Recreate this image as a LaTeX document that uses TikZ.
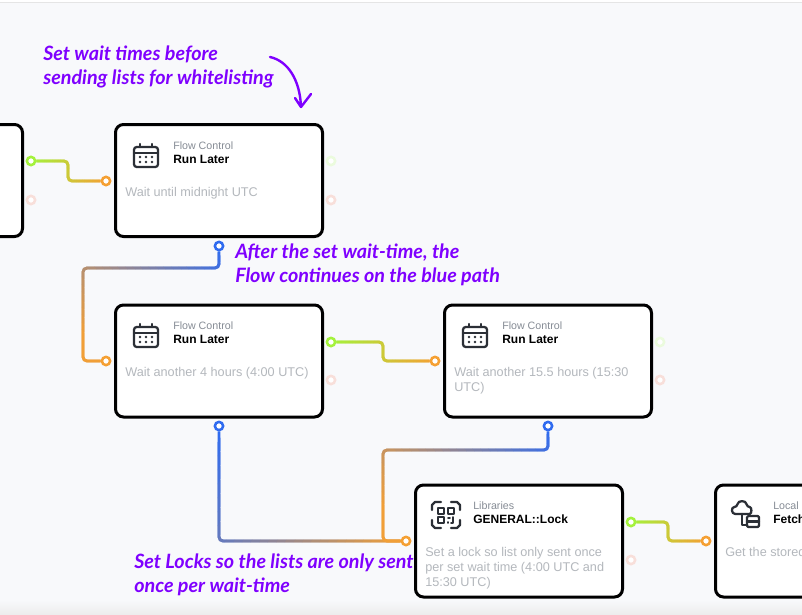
\documentclass[tikz,border=0pt]{standalone}
\usepackage{fontspec}
\setmainfont{Liberation Sans}
\newfontfamily\handfont{Lato}
\usetikzlibrary{calc}

\definecolor{pagebg}{HTML}{F8F9FB}
\definecolor{limeport}{HTML}{A4F23C}
\definecolor{orangeport}{HTML}{F5A033}
\definecolor{blueport}{HTML}{2F6BF0}
\definecolor{limefaint}{HTML}{EBFBDD}
\definecolor{redfaint}{HTML}{F8DFDA}
\definecolor{handpurple}{HTML}{7F00FF}
\definecolor{icondark}{HTML}{2B2F36}
\definecolor{kindgray}{HTML}{868C95}
\definecolor{waitgray}{HTML}{B4B8BD}

\pgfdeclarelayer{links}
\pgfsetlayers{links,main}

\tikzset{
  flowbox/.style={draw=black, fill=white, line width=2.25pt, rounded corners=6pt,
    minimum width=155.25pt, minimum height=84pt, inner sep=0pt},
  port/.style={circle, draw=#1, fill=white, line width=1.9pt, minimum size=6.2pt, inner sep=0pt},
  kindlabel/.style={anchor=base west, inner sep=0pt, text=kindgray, font=\fontsize{8}{9}\selectfont},
  titlelabel/.style={anchor=base west, inner sep=0pt, font=\fontsize{9}{11}\bfseries\selectfont},
  waitlabel/.style={anchor=north west, inner sep=0pt, align=left, text=waitgray,
    font=\fontsize{9.5}{11.25}\selectfont},
  handnote/.style={anchor=north west, inner sep=0pt, align=left, text=handpurple,
    font=\handfont\itshape\bfseries\fontsize{14.8}{18}\selectfont},
  iconline/.style={draw=icondark, line width=1.7pt, line cap=round, line join=round},
}

% gradient link: the same path redrawn through overlapping clipped bands
\newcommand{\flowlink}[5]{
  \coordinate (band-a) at ($(#1)!300pt!90:(#2)$);
  \coordinate (band-b) at ($(#2)!300pt!-90:(#1)$);
  \coordinate (band-c) at ($(#2)!300pt!90:(#1)$);
  \coordinate (band-d) at ($(#1)!300pt!-90:(#2)$);
  \foreach \i in {0,...,29} {
    \pgfmathsetmacro\ta{\i==0 ? -1 : \i/30}
    \pgfmathsetmacro\tb{\i>=28 ? 2 : (\i+2)/30}
    \pgfmathtruncatemacro\pct{(\i+0.5)*100/30}
    \begin{scope}
      \clip ($(band-a)!\ta!(band-b)$) -- ($(band-a)!\tb!(band-b)$)
         -- ($(band-d)!\tb!(band-c)$) -- ($(band-d)!\ta!(band-c)$) -- cycle;
      \draw[#5!\pct!#4, line width=2.1pt, rounded corners=3pt] #3;
    \end{scope}
  }
}

\newcommand{\calendaricon}[2]{
  \begin{scope}[shift={(#1,#2)}]
    \draw[iconline, rounded corners=2pt] (0,4) rectangle (24,24);
    \draw[iconline] (0,10) -- (24,10);
    \draw[iconline] (6,1) -- (6,4) (18,1) -- (18,4);
    \foreach \dotx in {6,12,18} \foreach \doty in {14,19}
      \fill[icondark] (\dotx,\doty) circle (1pt);
  \end{scope}
}

\begin{document}
\begin{tikzpicture}[x=0.75pt, y=-0.75pt]
  \useasboundingbox (0,0) rectangle (802,614);
  \clip (0,0) rectangle (802,614);

  \begin{pgfonlayer}{links}
    \fill[pagebg] (0,0) rectangle (802,614);
    \fill[white] (0,0) rectangle (802,2);
    \fill[black!10] (0,2) rectangle (802,3);
    \shade[top color=pagebg, bottom color=black!7] (0,600) rectangle (802,614);
  \end{pgfonlayer}

  % notes
  \node[handnote] (note-wait) at (43,46) {Set wait times before\\sending lists for whitelisting};
  \node[handnote] (note-after) at (235,244) {After the set wait-time, the\\Flow continues on the blue path};
  \node[handnote] (note-locks) at (134,554) {Set Locks so the lists are only sent\\once per wait-time};

  % boxes
  \node[flowbox] (box-start) at (-81,180.5) {};
  \node[flowbox] (box-midnight) at (219,180.5) {};
  \node[flowbox] (box-four) at (219,361) {};
  \node[flowbox] (box-fifteen) at (548,361) {};
  \node[flowbox] (box-lock) at (519,541) {};
  \node[flowbox] (box-fetch) at (819,541) {};

  \calendaricon{134}{143}
  \node[kindlabel] (kind-midnight) at (173,149) {Flow Control};
  \node[titlelabel] (title-midnight) at (173,163) {Run Later};
  \node[waitlabel] (wait-midnight) at (125,187.5) {Wait until midnight UTC};

  \calendaricon{134}{323}
  \node[kindlabel] (kind-four) at (173,329) {Flow Control};
  \node[titlelabel] (title-four) at (173,343) {Run Later};
  \node[waitlabel] (wait-four) at (125,367.5) {Wait another 4 hours (4:00 UTC)};

  \calendaricon{463}{323}
  \node[kindlabel] (kind-fifteen) at (502,329) {Flow Control};
  \node[titlelabel] (title-fifteen) at (502,343) {Run Later};
  \node[waitlabel] (wait-fifteen) at (454,367.5) {Wait another 15.5 hours (15:30\\UTC)};

  % qr icon
  \begin{scope}[shift={(432,502)}]
    \draw[iconline] (0,8) -- (0,3) -- (3,0) -- (9,0) (19,0) -- (25,0) -- (28,3) -- (28,8)
      (28,18) -- (28,23) -- (25,26) -- (19,26) (9,26) -- (3,26) -- (0,23) -- (0,18);
    \draw[iconline, line width=1.3pt] (6,6) rectangle (12,12) (16,6) rectangle (22,12) (6,15) rectangle (12,21);
    \draw[iconline, line width=1.3pt] (16,16) -- (18,16) (21,15) -- (21,21) -- (19,21) (16,20) -- (16,21);
  \end{scope}
  \node[kindlabel] (kind-lock) at (473,509) {Libraries};
  \node[titlelabel] (title-lock) at (473,523) {GENERAL::Lock};
  \node[waitlabel] (wait-lock) at (425,547.5) {Set a lock so list only sent once\\per set wait time (4:00 UTC and\\15:30 UTC)};

  % cloud icon
  \begin{scope}[shift={(733,502)}]
    \draw[iconline, rounded corners=2pt] (5,12) .. controls (-2,12) and (-2,5) .. (4,5)
      .. controls (5,-2) and (13,-2) .. (14,5) .. controls (19,5) and (19,12) .. (14,12) -- cycle;
    \draw[iconline] (9,12) -- (9,23) -- (14,23);
    \draw[iconline, rounded corners=1pt] (14,14) rectangle (26,25);
    \draw[iconline] (14,19.5) -- (26,19.5);
  \end{scope}
  \node[kindlabel] (kind-fetch) at (773,509) {Local Storage};
  \node[titlelabel] (title-fetch) at (773,523) {Fetch};
  \node[waitlabel] (wait-fetch) at (725,547.5) {Get the stored};

  % ports
  \node[port=limeport] (out-start) at (31,161) {};
  \node[port=redfaint] (err-start) at (31,200) {};
  \node[port=orangeport] (in-midnight) at (106,181) {};
  \node[port=limefaint] (out-midnight) at (331,161) {};
  \node[port=redfaint] (err-midnight) at (331,200) {};
  \node[port=blueport] (later-midnight) at (219,246) {};
  \node[port=orangeport] (in-four) at (106,361) {};
  \node[port=limeport] (out-four) at (331,342) {};
  \node[port=redfaint] (err-four) at (331,380) {};
  \node[port=blueport] (later-four) at (219,426) {};
  \node[port=orangeport] (in-fifteen) at (435,361) {};
  \node[port=limefaint] (out-fifteen) at (660,342) {};
  \node[port=redfaint] (err-fifteen) at (660,380) {};
  \node[port=blueport] (later-fifteen) at (548,426) {};
  \node[port=orangeport] (in-lock) at (406,541) {};
  \node[port=limeport] (out-lock) at (631,522) {};
  \node[port=redfaint] (err-lock) at (631,560) {};
  \node[port=orangeport] (in-fetch) at (706,541) {};

  \coordinate (bend-start) at (68,171);
  \coordinate (bend-midnight) at (83,268);
  \coordinate (bend-four) at (383,351);
  \coordinate (bend-fifteen) at (383,450);
  \coordinate (bend-lock) at (668,531);

  \begin{pgfonlayer}{links}
    \flowlink{out-start}{in-midnight}{(out-start) -- (out-start -| bend-start) -- (bend-start |- in-midnight) -- (in-midnight)}{limeport}{orangeport}
    \flowlink{later-midnight}{in-four}{(later-midnight) -- (later-midnight |- bend-midnight) -- (bend-midnight) -- (bend-midnight |- in-four) -- (in-four)}{blueport}{orangeport}
    \flowlink{out-four}{in-fifteen}{(out-four) -- (out-four -| bend-four) -- (bend-four |- in-fifteen) -- (in-fifteen)}{limeport}{orangeport}
    \flowlink{later-four}{in-lock}{(later-four) -- (later-four |- in-lock) -- (in-lock)}{blueport}{orangeport}
    \flowlink{later-fifteen}{in-lock}{(later-fifteen) -- (later-fifteen |- bend-fifteen) -- (bend-fifteen) -- (bend-fifteen |- in-lock) -- (in-lock)}{blueport}{orangeport}
    \flowlink{out-lock}{in-fetch}{(out-lock) -- (out-lock -| bend-lock) -- (bend-lock |- in-fetch) -- (in-fetch)}{limeport}{orangeport}
  \end{pgfonlayer}

  % hand drawn arrow
  \coordinate (arrow-start) at (270,57);
  \coordinate (arrow-tip) at (301,107);
  \draw[handpurple, line width=1.8pt, line cap=round, line join=round]
    (arrow-start) .. controls (288,61) and (300,80) .. (arrow-tip)
    (295,98) -- (arrow-tip) -- (311,94);
\end{tikzpicture}
\end{document}
